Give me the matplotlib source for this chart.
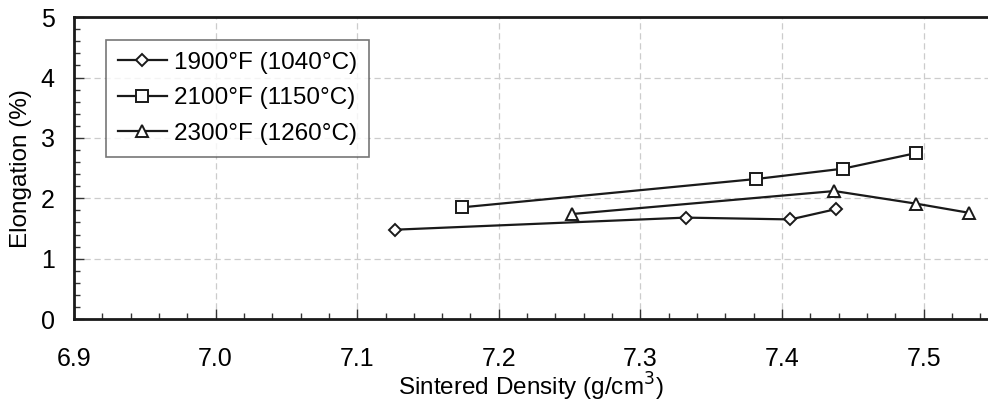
import matplotlib.pyplot as plt
from matplotlib.ticker import MultipleLocator

# sintered density (g/cm3) and elongation (%) per sintering temperature
density_1900 = [7.127, 7.332, 7.406, 7.438]
elong_1900 = [1.48, 1.68, 1.65, 1.82]
density_2100 = [7.174, 7.382, 7.443, 7.495]
elong_2100 = [1.85, 2.32, 2.49, 2.75]
density_2300 = [7.252, 7.437, 7.495, 7.532]
elong_2300 = [1.74, 2.12, 1.91, 1.76]

labels = ["1900°F (1040°C)", "2100°F (1150°C)", "2300°F (1260°C)"]
xticks = [6.9, 7.0, 7.1, 7.2, 7.3, 7.4, 7.5]
yticks = [0, 1, 2, 3, 4, 5]

plt.rcParams["font.family"] = ["Liberation Sans", "DejaVu Sans"]

fig = plt.figure(figsize=(9.88, 4.08), dpi=100)
ax = fig.add_axes([0.0749, 0.218, 0.9251, 0.740])

style = dict(color="#1a1a1a", lw=1.6, markerfacecolor="white",
             markeredgecolor="#1a1a1a", markeredgewidth=1.4)
ax.plot(density_1900, elong_1900, marker="D", markersize=6.5, label=labels[0], **style)
ax.plot(density_2100, elong_2100, marker="s", markersize=8, label=labels[1], **style)
ax.plot(density_2300, elong_2300, marker="^", markersize=8.5, label=labels[2], **style)

ax.set_xlim(6.9, 7.5455)
ax.set_ylim(0, 5)
ax.set_xticks(xticks)
ax.set_xticklabels([f"{t:.1f}" for t in xticks])
ax.set_yticks(yticks)
ax.xaxis.set_minor_locator(MultipleLocator(0.02))
ax.yaxis.set_minor_locator(MultipleLocator(0.2))
ax.tick_params(which="both", direction="in", color="#333333", width=1)
ax.tick_params(which="major", length=7, labelsize=18)
ax.tick_params(which="minor", length=4)
ax.tick_params(axis="x", pad=20)
ax.tick_params(axis="y", pad=14)

ax.grid(True, which="major", color="#cccccc", lw=0.9, linestyle=(0, (5, 3)))
ax.set_axisbelow(True)

for side in ["top", "bottom", "left"]:
    ax.spines[side].set_linewidth(2.0)
    ax.spines[side].set_color("#1a1a1a")
ax.spines["right"].set_visible(False)

ax.set_xlabel("Sintered Density (g/cm$^3$)", fontsize=17.5, labelpad=0)
ax.set_ylabel("Elongation (%)", fontsize=17.5, labelpad=6)

leg = ax.legend(loc="upper left", bbox_to_anchor=(0.035, 0.925), fontsize=17.5,
                frameon=True, fancybox=False, edgecolor="#555555",
                handlelength=2.0, handletextpad=0.3, labelspacing=0.55,
                borderpad=0.5, borderaxespad=0)
leg.get_frame().set_linewidth(1.2)

fig.savefig("out.png", dpi=100)
